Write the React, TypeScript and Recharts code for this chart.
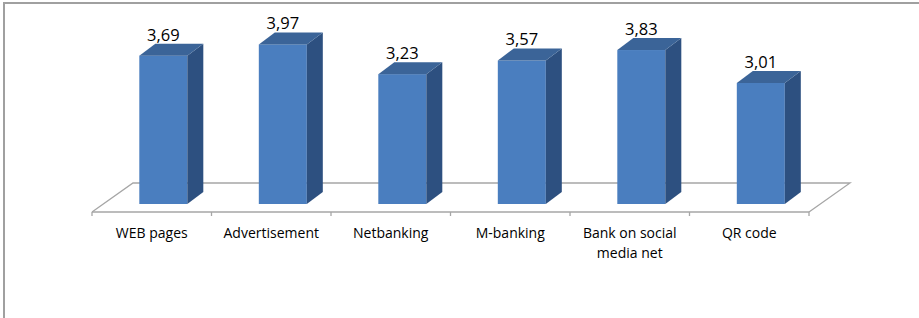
import React from 'react';
import { BarChart, Bar, XAxis, YAxis, LabelList } from 'recharts';

/* =======================
   Data
======================= */
const CATEGORIES = [
  'WEB pages',
  'Advertisement',
  'Netbanking',
  'M-banking',
  'Bank on social media net',
  'QR code',
];
const VALUES = [3.69, 3.97, 3.23, 3.57, 3.83, 3.01];

const data = CATEGORIES.map((name, i) => ({ name, value: VALUES[i] }));

/* =======================
   Layout / colors
======================= */
const W = 919;
const H = 318;
const PLOT_LEFT = 92;
const PLOT_RIGHT = 809;
const FLOOR_DX = 41; // floor depth, horizontal
const FLOOR_DY = 29; // floor depth, vertical
const BAR_DEPTH_Y = 8; // bar sits this far back on the floor
const BAR_DEPTH_X = (BAR_DEPTH_Y * FLOOR_DX) / FLOOR_DY;
const SIDE_DX = 16;
const SIDE_DY = 12;

const COLORS = {
  front: '#4A7EBF',
  top: '#3B6498',
  side: '#2D5080',
  floor: '#A6A6A6',
  border: '#A0A0A0',
  text: '#000000',
};

const FONT = '"Open Sans", sans-serif';

/* =======================
   Shapes
======================= */
const Bar3D = (props: any) => {
  const { x, y, width, height, index } = props;
  const base = y + height; // front floor line
  const fx = x + BAR_DEPTH_X;
  const fy = y - BAR_DEPTH_Y;
  const fb = base - BAR_DEPTH_Y;
  return (
    <g>
      {index === 0 && (
        <g stroke={COLORS.floor} strokeWidth={1.3} fill="none">
          <polyline
            points={`${PLOT_LEFT},${base} ${PLOT_LEFT + FLOOR_DX},${base - FLOOR_DY} ${PLOT_RIGHT + FLOOR_DX},${base - FLOOR_DY} ${PLOT_RIGHT},${base}`}
          />
          <line x1={PLOT_LEFT} y1={base} x2={PLOT_RIGHT} y2={base} />
        </g>
      )}
      <rect x={fx} y={fy} width={width} height={fb - fy} fill={COLORS.front} />
      <polygon
        points={`${fx + width},${fy} ${fx + width + SIDE_DX},${fy - SIDE_DY} ${fx + width + SIDE_DX},${fb - SIDE_DY} ${fx + width},${fb}`}
        fill={COLORS.side}
      />
      <polygon
        points={`${fx},${fy} ${fx + SIDE_DX},${fy - SIDE_DY} ${fx + width + SIDE_DX},${fy - SIDE_DY} ${fx + width},${fy}`}
        fill={COLORS.top}
      />
    </g>
  );
};

const wrap = (text: string, max: number) => {
  const words = text.split(' ');
  const lines: string[] = [];
  let cur = '';
  words.forEach((w) => {
    const next = cur ? cur + ' ' + w : w;
    if (next.length > max && cur) {
      lines.push(cur);
      cur = w;
    } else {
      cur = next;
    }
  });
  if (cur) lines.push(cur);
  return lines;
};

const CategoryTick = (props: any) => {
  const { x, y, payload, index, visibleTicksCount } = props;
  const band = (PLOT_RIGHT - PLOT_LEFT) / visibleTicksCount;
  const lines = wrap(String(payload.value), 14);
  return (
    <g>
      <line
        x1={x - band / 2}
        y1={y}
        x2={x - band / 2}
        y2={y + 4}
        stroke={COLORS.floor}
        strokeWidth={1.3}
      />
      {index === visibleTicksCount - 1 && (
        <line
          x1={x + band / 2}
          y1={y}
          x2={x + band / 2}
          y2={y + 4}
          stroke={COLORS.floor}
          strokeWidth={1.3}
        />
      )}
      <text
        x={x}
        y={y + 26}
        textAnchor="middle"
        fontFamily={FONT}
        fontSize={14}
        fill={COLORS.text}
      >
        {lines.map((l, i) => (
          <tspan key={i} x={x} dy={i === 0 ? 0 : 20}>
            {l}
          </tspan>
        ))}
      </text>
    </g>
  );
};

const ValueLabel = (props: any) => {
  const { x, y, width, value } = props;
  return (
    <text
      x={x + BAR_DEPTH_X + width / 2}
      y={y - BAR_DEPTH_Y - 15}
      textAnchor="middle"
      fontFamily={FONT}
      fontSize={16.5}
      fill={COLORS.text}
    >
      {Number(value).toFixed(2).replace('.', ',')}
    </text>
  );
};

/* =======================
   Component
======================= */
const App: React.FC = () => {
  return (
    <div
      style={{
        position: 'absolute',
        left: 0,
        top: 0,
        width: W,
        height: H,
        overflow: 'hidden',
        background: '#fff',
      }}
    >
      <div
        style={{
          position: 'absolute',
          left: 3,
          top: 2,
          width: W + 20,
          height: H + 20,
          borderLeft: `2px solid ${COLORS.border}`,
          borderTop: `2px solid ${COLORS.border}`,
        }}
      />
      <div style={{ position: 'absolute', left: 0, top: 0 }}>
        <BarChart
          width={W}
          height={H}
          data={data}
          margin={{ top: 11, right: W - PLOT_RIGHT, bottom: 46, left: PLOT_LEFT }}
        >
          <XAxis
            dataKey="name"
            axisLine={false}
            tickLine={false}
            tickSize={0}
            tickMargin={0}
            height={60}
            interval={0}
            tick={<CategoryTick />}
          />
          <YAxis hide domain={[0, 5]} />
          <Bar
            dataKey="value"
            barSize={48}
            shape={<Bar3D />}
            isAnimationActive={false}
          >
            <LabelList dataKey="value" content={<ValueLabel />} />
          </Bar>
        </BarChart>
      </div>
    </div>
  );
};

export default App;
